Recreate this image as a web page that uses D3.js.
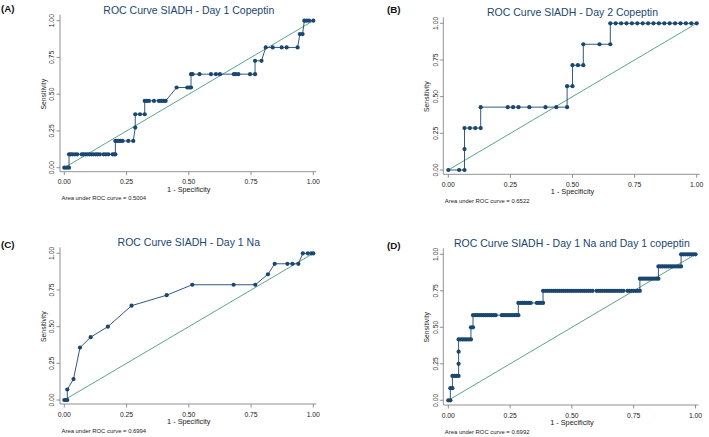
<!DOCTYPE html>
<html>

<head>
    <title>ROC Curves SIADH</title>
    <script src="https://d3js.org/d3.v7.min.js"></script>
    <style>
        body { margin: 0; background: #fff; }
        text { font-family: "Liberation Sans", Arial, sans-serif; }
    </style>
</head>

<body>
    <script>
        // ---- data ----
        const titles = [
            'ROC Curve SIADH - Day 1 Copeptin',
            'ROC Curve SIADH - Day 2 Copeptin',
            'ROC Curve SIADH - Day 1 Na',
            'ROC Curve SIADH - Day 1 Na and Day 1 copeptin'
        ]
        const panelLabels = ['(A)', '(B)', '(C)', '(D)']
        const aucLabels = [
            'Area under ROC curve = 0.5004',
            'Area under ROC curve = 0.6522',
            'Area under ROC curve = 0.6994',
            'Area under ROC curve = 0.6992'
        ]
        const tickValues = [0, 0.25, 0.5, 0.75, 1]
        const tickLabels = ['0.00', '0.25', '0.50', '0.75', '1.00']

        // A: 1 - specificity per sensitivity level (11 positives)
        const day1CopeptinPos = 11
        const day1CopeptinX = [
            [0, 0.009, 0.019],
            [0.019, 0.025, 0.033, 0.043, 0.052, 0.070, 0.076, 0.084, 0.092, 0.100, 0.108, 0.116, 0.126, 0.134, 0.143, 0.158, 0.167, 0.177, 0.194, 0.201, 0.205],
            [0.205, 0.211, 0.218, 0.226, 0.234, 0.257, 0.277],
            [0.285],
            [0.285, 0.304, 0.323],
            [0.323, 0.331, 0.340, 0.360, 0.380, 0.389, 0.398, 0.407],
            [0.451, 0.494, 0.502, 0.509],
            [0.509, 0.515, 0.543, 0.589, 0.609, 0.625, 0.681, 0.688, 0.699, 0.746, 0.766],
            [0.766, 0.792],
            [0.809, 0.837, 0.873, 0.893, 0.937],
            [0.946, 0.957],
            [0.964, 0.973, 0.983, 1.0]
        ]

        // B: false positive counts (of 46) per sensitivity level (7 positives)
        const day2CopeptinPos = 7
        const day2CopeptinNeg = 46
        const day2CopeptinFP = [
            [0, 2, 3],
            [3],
            [3, 4, 5, 6],
            [6, 11, 12, 13, 15, 18, 20, 22],
            [22, 23],
            [23, 24, 25],
            [25, 28, 30],
            [30, 31, 32, 33, 34, 35, 36, 37, 38, 39, 40, 41, 42, 43, 44, 45, 46]
        ]

        // C: points (1 - specificity, true positives of 14)
        const day1NaPos = 14
        const day1NaX = [0, 0.006, 0.012, 0.012, 0.037, 0.063, 0.106, 0.175, 0.270, 0.411, 0.514, 0.680, 0.767, 0.818, 0.845, 0.896, 0.916, 0.940, 0.958, 0.978, 0.992, 1.0]
        const day1NaTP = [0, 0, 0, 1, 2, 5, 6, 7, 9, 10, 11, 11, 11, 12, 13, 13, 13, 13, 14, 14, 14, 14]

        // D: false positive counts (of 120) per sensitivity level (12 positives)
        const combinedPos = 12
        const combinedNeg = 120
        const combinedFP = [
            [0, 1],
            [1, 2],
            [2, 3, 4, 5],
            [5],
            [5],
            [5, 6, 7, 8, 9, 10, 11],
            [11, 12],
            [12, 13, 14, 15, 16, 17, 18, 19, 20, 21, 22, 23, 26, 27, 28, 29, 30, 31, 32, 33, 34],
            [34, 35, 36, 37, 38, 39, 40, 43, 44, 45, 46],
            [46, 47, 48, 49, 50, 51, 52, 53, 54, 55, 56, 57, 58, 59, 60, 61, 62, 63, 64, 65, 66, 67, 68, 69, 70, 72, 73, 74, 75, 76, 77, 78, 79, 80, 81, 82, 83, 84, 85, 87, 88, 89, 90, 91, 92, 93],
            [93, 94, 95, 96, 97, 98, 99, 100, 101, 102],
            [102, 103, 104, 105, 106, 107, 108, 109, 110, 111, 112, 113],
            [113, 114, 115, 116, 117, 118, 119, 120]
        ]

        // ---- build point lists ----
        function fromLevels(levels, nPos, toX) {
            let pts = []
            levels.forEach(function (xs, tp) {
                xs.forEach(function (v) {
                    pts.push({ x: toX(v), y: tp / nPos })
                })
            })
            return pts
        }

        const curves = [
            fromLevels(day1CopeptinX, day1CopeptinPos, v => v),
            fromLevels(day2CopeptinFP, day2CopeptinPos, v => v / day2CopeptinNeg),
            day1NaX.map((v, i) => ({ x: v, y: day1NaTP[i] / day1NaPos })),
            fromLevels(combinedFP, combinedPos, v => v / combinedNeg)
        ]

        // panel geometry
        const panels = [
            { x0: 64.3, x1: 313.3, y1: 20.7, y0: 167.7, axX: 60, axY: 171.7, labX: 1, labY: 8.5 },
            { x0: 448.3, x1: 696.7, y1: 23.3, y0: 170, axX: 443.3, axY: 174.3, labX: 387, labY: 9.5 },
            { x0: 64.3, x1: 313.3, y1: 253.3, y0: 400, axX: 60, axY: 404, labX: 1, labY: 244.5 },
            { x0: 448.3, x1: 695.5, y1: 254.3, y0: 400.3, axX: 443.3, axY: 405, labX: 387, labY: 245 }
        ]

        const navy = '#1a476f'
        const green = '#4a9a80'
        const axisColor = '#777'

        let svg = d3.select('body')
            .append('svg')
            .attr('width', 709)
            .attr('height', 437)

        panels.forEach(function (p, i) {
            let g = svg.append('g')

            let x = d3.scaleLinear().domain([0, 1]).range([p.x0, p.x1])
            let y = d3.scaleLinear().domain([0, 1]).range([p.y0, p.y1])

            // axis lines
            g.append('line')
                .attr('x1', p.axX).attr('x2', p.axX)
                .attr('y1', p.axY).attr('y2', p.y1 - 6)
                .attr('stroke', axisColor).attr('stroke-width', 0.8)
            g.append('line')
                .attr('x1', p.axX).attr('x2', p.x1 + 3)
                .attr('y1', p.axY).attr('y2', p.axY)
                .attr('stroke', axisColor).attr('stroke-width', 0.8)

            // x ticks
            let xt = g.append('g').selectAll('g')
                .data(tickValues)
                .enter()
                .append('g')
            xt.append('line')
                .attr('x1', d => x(d)).attr('x2', d => x(d))
                .attr('y1', p.axY).attr('y2', p.axY + 3.5)
                .attr('stroke', axisColor).attr('stroke-width', 0.8)
            xt.append('text')
                .attr('x', d => x(d))
                .attr('y', p.axY + 10)
                .attr('text-anchor', 'middle')
                .attr('dominant-baseline', 'central')
                .attr('font-size', 6.8)
                .attr('fill', '#222')
                .text((d, k) => tickLabels[k])

            // y ticks
            let yt = g.append('g').selectAll('g')
                .data(tickValues)
                .enter()
                .append('g')
            yt.append('line')
                .attr('x1', p.axX - 3.5).attr('x2', p.axX)
                .attr('y1', d => y(d)).attr('y2', d => y(d))
                .attr('stroke', axisColor).attr('stroke-width', 0.8)
            yt.append('text')
                .attr('transform', d => 'translate(' + (p.axX - 8.3) + ',' + y(d) + ') rotate(-90)')
                .attr('text-anchor', 'middle')
                .attr('dominant-baseline', 'central')
                .attr('font-size', 6.8)
                .attr('fill', '#222')
                .text((d, k) => tickLabels[k])

            // axis titles
            g.append('text')
                .attr('x', (p.x0 + p.x1) / 2)
                .attr('y', p.axY + 17.5)
                .attr('text-anchor', 'middle')
                .attr('dominant-baseline', 'central')
                .attr('font-size', 7.3)
                .attr('fill', '#222')
                .text('1 - Specificity')
            g.append('text')
                .attr('transform', 'translate(' + (p.axX - 16.7) + ',' + (p.y0 + p.y1) / 2 + ') rotate(-90)')
                .attr('text-anchor', 'middle')
                .attr('dominant-baseline', 'central')
                .attr('font-size', 6.8)
                .attr('fill', '#222')
                .text('Sensitivity')

            // auc note
            g.append('text')
                .attr('x', p.axX + 1.5)
                .attr('y', p.axY + 26.5)
                .attr('dominant-baseline', 'central')
                .attr('font-size', 5.9)
                .attr('fill', '#222')
                .text(aucLabels[i])

            // title and panel letter
            g.append('text')
                .attr('x', (p.x0 + p.x1) / 2)
                .attr('y', p.y1 - 11)
                .attr('text-anchor', 'middle')
                .attr('dominant-baseline', 'central')
                .attr('font-size', 10.5)
                .attr('fill', navy)
                .text(titles[i])
            g.append('text')
                .attr('x', p.labX)
                .attr('y', p.labY)
                .attr('dominant-baseline', 'central')
                .attr('font-size', 9.8)
                .attr('font-weight', 'bold')
                .attr('fill', '#111')
                .text(panelLabels[i])

            // reference diagonal
            g.append('line')
                .attr('x1', x(0)).attr('y1', y(0))
                .attr('x2', x(1)).attr('y2', y(1))
                .attr('stroke', green).attr('stroke-width', 0.9)

            // roc curve
            let line = d3.line()
                .x(d => x(d.x))
                .y(d => y(d.y))

            g.append('path')
                .attr('d', line(curves[i]))
                .attr('stroke', navy)
                .attr('stroke-width', 0.9)
                .attr('fill', 'none')

            g.append('g')
                .selectAll('circle')
                .data(curves[i])
                .enter()
                .append('circle')
                .attr('cx', d => x(d.x))
                .attr('cy', d => y(d.y))
                .attr('r', 2.1)
                .attr('fill', navy)
        })
    </script>
</body>
</html>
